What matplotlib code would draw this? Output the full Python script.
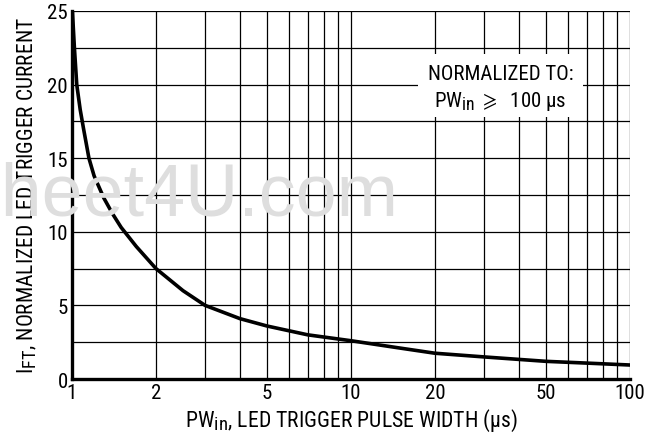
import matplotlib
matplotlib.use("Agg")
import matplotlib.pyplot as plt
import matplotlib._mathtext as mathtext_core
from matplotlib.patches import Rectangle
from matplotlib.ticker import FixedLocator, NullLocator

# -------------------- Data --------------------
pw_us = [1.0, 1.02, 1.04, 1.07, 1.1, 1.15, 1.2, 1.3, 1.4, 1.5, 1.7,
         2.0, 2.5, 3.0, 4.0, 5.0, 7.0, 10, 15, 20, 30, 50, 70, 100]
ift_norm = [25.5, 22.5, 20.0, 18.3, 17.0, 15.0, 13.8, 12.3, 11.2, 10.3, 9.0,
            7.5, 6.0, 5.0, 4.1, 3.6, 3.0, 2.6, 2.1, 1.75, 1.5, 1.2, 1.08, 0.95]

x_ticks = [1, 2, 5, 10, 20, 50, 100]
x_grid = [1, 2, 3, 4, 5, 6, 7, 8, 9, 10, 20, 30, 40, 50, 60, 70, 80, 90, 100]
y_ticks = [0, 5, 10, 15, 20, 25]
y_grid = [0, 2.5, 5, 7.5, 10, 12.5, 15, 17.5, 20, 22.5, 25]

# -------------------- Font --------------------
FAM = "Roboto Condensed"
FS = 15
plt.rcParams["font.family"] = [FAM, "DejaVu Sans"]
plt.rcParams["mathtext.fontset"] = "custom"
plt.rcParams["mathtext.rm"] = FAM
plt.rcParams["mathtext.it"] = FAM
plt.rcParams["mathtext.sf"] = FAM
# datasheet subscripts are only slightly smaller than the body text
if hasattr(mathtext_core, "SHRINK_FACTOR"):
    mathtext_core.SHRINK_FACTOR = 0.85

# -------------------- Plot --------------------
fig = plt.figure(figsize=(6.56, 4.35), dpi=100)
ax = fig.add_axes([72 / 656, 1 - 380 / 435, 558 / 656, 368 / 435])

# scanned-datasheet watermark, behind the grid
fig.text(398 / 656, 1 - 216 / 435, "DataSheet4U.com", ha="right", va="baseline",
         fontsize=53, color="#dedede", family="Liberation Sans", zorder=0)
ax.patch.set_alpha(0)

ax.set_xscale("log")
ax.set_xlim(1, 100)
ax.set_ylim(0, 25)

for gx in x_grid:
    ax.axvline(gx, color="black", lw=0.9, zorder=1)
for gy in y_grid:
    ax.axhline(gy, color="black", lw=0.9, zorder=1)

ax.plot(pw_us, ift_norm, color="black", lw=2.6, zorder=3)

ax.xaxis.set_major_locator(FixedLocator(x_ticks))
ax.xaxis.set_minor_locator(NullLocator())
ax.set_xticklabels([str(t) for t in x_ticks])
ax.set_yticks(y_ticks)
ax.tick_params(length=0, labelsize=FS, pad=3)

for s in ["top", "right"]:
    ax.spines[s].set_visible(False)
for s in ["left", "bottom"]:
    ax.spines[s].set_linewidth(2.4)
    ax.spines[s].set_zorder(4)

ax.set_xlabel(r"PW$_{\mathrm{in}}$, LED TRIGGER PULSE WIDTH (µs)", fontsize=15.7, labelpad=3)
ax.set_ylabel(r"I$_{\mathrm{FT}}$, NORMALIZED LED TRIGGER CURRENT", fontsize=15.5, labelpad=6)

# note box (white patch cuts the grid)
ax.add_patch(Rectangle((0.620, 0.712), 0.296, 0.171, transform=ax.transAxes,
                       fc="white", ec="none", zorder=4))
ax.text(0.768, 0.829, "NORMALIZED TO:", transform=ax.transAxes,
        ha="center", va="center", fontsize=FS, zorder=5)
ax.text(0.768, 0.758, r"PW$_{\mathrm{in}}$ $\geqslant$  100 µs", transform=ax.transAxes,
        ha="center", va="center", fontsize=FS, zorder=5)

fig.savefig("out.png", dpi=100)
